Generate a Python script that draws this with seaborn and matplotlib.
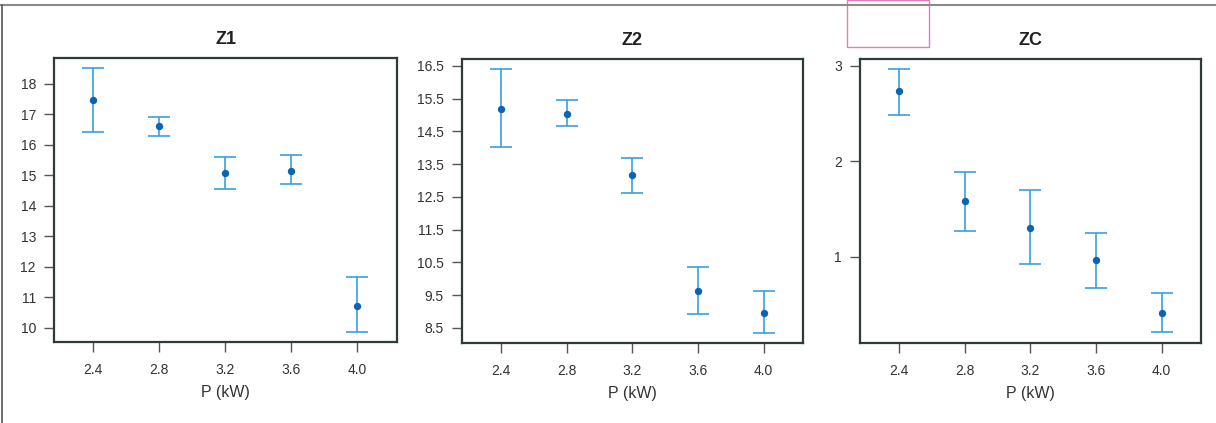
import numpy as np
import pandas as pd
import matplotlib
matplotlib.use("Agg")
import matplotlib.pyplot as plt
import seaborn as sns
from matplotlib.lines import Line2D
from matplotlib.patches import Rectangle

# values
power = [2.4, 2.8, 3.2, 3.6, 4.0]

z1_mean = [17.48, 16.62, 15.07, 15.16, 10.73]
z1_low = [16.42, 16.30, 14.55, 14.71, 9.86]
z1_high = [18.51, 16.92, 15.60, 15.66, 11.67]

z2_mean = [15.19, 15.03, 13.16, 9.62, 8.97]
z2_low = [14.01, 14.65, 12.62, 8.92, 8.36]
z2_high = [16.39, 15.45, 13.70, 10.35, 9.62]

zc_mean = [2.73, 1.58, 1.30, 0.96, 0.41]
zc_low = [2.48, 1.27, 0.92, 0.67, 0.21]
zc_high = [2.965, 1.89, 1.70, 1.25, 0.62]

titles = ["Z1", "Z2", "ZC"]
yticks = [np.arange(10, 18.5, 1), np.arange(8.5, 17, 1), [1, 2, 3]]
ylims = [(9.54, 18.85), (8.04, 16.71), (0.096, 3.07)]
yfmt = ["{:.0f}", "{:.1f}", "{:.0f}"]

sns.set_theme(style="ticks")
plt.rcParams["font.family"] = ["Liberation Sans", "DejaVu Sans"]

bar_color = "#3a9fe0"
dot_color = "#0a63b5"
frame_color = "#2d3b3d"
text_color = "#333333"

fig = plt.figure(figsize=(12.16, 4.23), dpi=100)
W, H = 1216, 423
boxes = [(54, 397, 58, 342), (462, 803, 59, 343), (860, 1201, 59, 343)]

series = [(z1_mean, z1_low, z1_high), (z2_mean, z2_low, z2_high), (zc_mean, zc_low, zc_high)]

for i, (mean, low, high) in enumerate(series):
    x0, x1, y0, y1 = boxes[i]
    ax = fig.add_axes([x0 / W, 1 - y1 / H, (x1 - x0) / W, (y1 - y0) / H])
    df = pd.DataFrame({"P": power, "mean": mean, "low": low, "high": high})
    yerr = [df["mean"] - df["low"], df["high"] - df["mean"]]
    ax.errorbar(df["P"], df["mean"], yerr=yerr, fmt="none", ecolor=bar_color,
                elinewidth=1.2, capsize=8, capthick=1.2, zorder=2)
    sns.scatterplot(data=df, x="P", y="mean", ax=ax, color=dot_color, s=28,
                    edgecolor=dot_color, linewidth=0, zorder=3)
    ax.set_xlim(2.163, 4.24)
    ax.set_ylim(*ylims[i])
    ax.set_xticks(power)
    ax.set_xticklabels(["{:.1f}".format(p) for p in power])
    ax.set_yticks(yticks[i])
    ax.set_yticklabels([yfmt[i].format(v) for v in yticks[i]])
    ax.set_title(titles[i], fontsize=13, fontweight="bold", color="#222222", pad=10)
    ax.set_xlabel("P (kW)", fontsize=11.5, color=text_color, labelpad=6)
    ax.set_ylabel("")
    for sp in ax.spines.values():
        sp.set_visible(True)
        sp.set_color(frame_color)
        sp.set_linewidth(1.6)
    ax.tick_params(axis="x", length=7, width=1, color="#555555", pad=8,
                   labelsize=10, labelcolor=text_color)
    ax.tick_params(axis="y", length=7, width=1, color="#555555", pad=6,
                   labelsize=10, labelcolor=text_color)

# page frame and marker box from the scan
fig.add_artist(Line2D([0, 1], [1 - 5 / H, 1 - 5 / H], transform=fig.transFigure,
                      color="#8a8a8a", linewidth=1.5))
fig.add_artist(Line2D([2 / W, 2 / W], [0, 1 - 5 / H], transform=fig.transFigure,
                      color="#555555", linewidth=1.2))
fig.add_artist(Rectangle((847 / W, 1 - 47 / H), 82 / W, 47 / H, transform=fig.transFigure,
                         fill=False, edgecolor="#e07cc0", linewidth=1))

fig.savefig("out.png", dpi=100)
